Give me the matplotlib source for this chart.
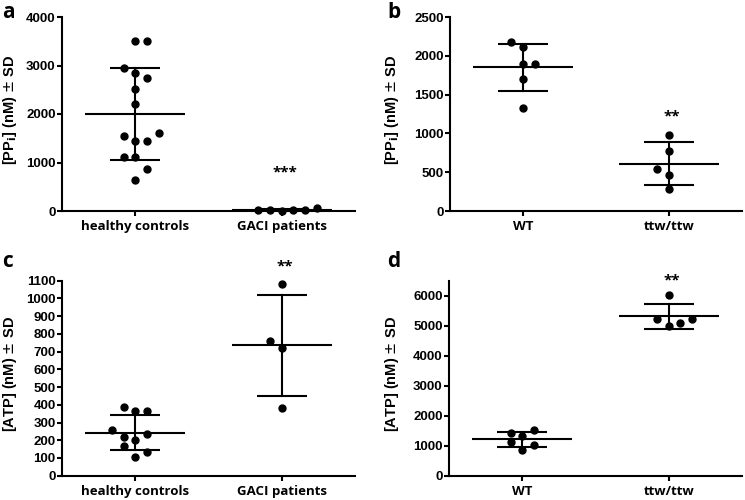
import numpy as np
import matplotlib
matplotlib.use("Agg")
import matplotlib.pyplot as plt

# ---- data ----
# panel a: PPi in human plasma
a_groups = ["healthy controls", "GACI patients"]
a_controls = [3511, 3511, 2955, 2838, 2735, 2515, 2206, 1546, 1601, 1443, 1443, 1120, 1120, 859, 639]
a_gaci = [20, 15, 10, 15, 20, 60]

# panel b: PPi in mouse plasma
b_groups = ["WT", "ttw/ttw"]
b_wt = [2174, 2109, 1894, 1894, 1701, 1331]
b_ttw = [982, 776, 545, 467, 287]

# panel c: ATP in human plasma
c_groups = ["healthy controls", "GACI patients"]
c_controls = [387, 363, 363, 256, 220, 237, 203, 167, 134, 103]
c_gaci = [1079, 760, 720, 382]

# panel d: ATP in mouse plasma
d_groups = ["WT", "ttw/ttw"]
d_wt = [1428, 1539, 1317, 1107, 1007, 852]
d_ttw = [6022, 5214, 5214, 5081, 5004]

# scatter slot of each dot (column-scatter layout as in the figure)
a_controls_slot = [0, 1, -1, 0, 1, 0, 0, -1, 2, 0, 1, -1, 0, 1, 0]
a_gaci_slot = [-2, -1, 0, 1, 2, 3]
b_wt_slot = [-1, 0, 0, 1, 0, 0]
b_ttw_slot = [0, 0, -1, 0, 0]
c_controls_slot = [-1, 0, 1, -2, -1, 1, 0, -1, 1, 0]
c_gaci_slot = [0, -1, 0, 0]
d_wt_slot = [-1, 1, 0, -1, 1, 0]
d_ttw_slot = [0, -1, 2, 1, 0]

SLOT_W = 0.08
TICK_FONT = "Liberation Sans"
CAT_FONT = "Open Sans"

fig = plt.figure(figsize=(7.45, 5.0), dpi=100)


def panel(rect, groups, series, slots, ylim, yticks, ylabel, stars, star_y, letter, letter_xy, label_x):
    ax = fig.add_axes(rect)
    for i, (vals, sl) in enumerate(zip(series, slots)):
        vals = np.array(vals, dtype=float)
        m = vals.mean()
        sd = vals.std(ddof=1)
        ax.plot([i - 0.34, i + 0.34], [m, m], color="black", lw=1.5, solid_capstyle="butt")
        ax.plot([i, i], [m - sd, m + sd], color="black", lw=1.5)
        for y in (m - sd, m + sd):
            ax.plot([i - 0.17, i + 0.17], [y, y], color="black", lw=1.5, solid_capstyle="butt")
        xs = i + SLOT_W * np.array(sl)
        ax.plot(xs, vals, "o", color="black", ms=5, mec="black", clip_on=False, zorder=5)

    ax.set_xlim(-0.5, 1.5)
    ax.set_ylim(*ylim)
    ax.set_yticks(yticks)
    ax.set_xticks([0, 1])
    ax.set_xticklabels(groups, fontfamily=CAT_FONT, fontweight="bold", fontsize=9.5)
    for lab in ax.get_yticklabels():
        lab.set_fontfamily(TICK_FONT)
        lab.set_fontweight("bold")
        lab.set_fontsize(9.5)
    ax.spines["top"].set_visible(False)
    ax.spines["right"].set_visible(False)
    ax.spines["left"].set_linewidth(1.5)
    ax.spines["bottom"].set_linewidth(1.5)
    ax.tick_params(axis="y", length=3.5, width=1.5, pad=1)
    ax.tick_params(axis="x", length=3.5, width=1.5, pad=3)
    ax.set_ylabel(ylabel, fontfamily=TICK_FONT, fontweight="bold", fontsize=10.5)
    ax.yaxis.set_label_coords(label_x, 0.52)
    ax.text(1.02, star_y, stars, ha="center", va="center", fontfamily=CAT_FONT,
            fontweight="bold", fontsize=11, clip_on=False)
    fig.text(letter_xy[0] / 745, 1 - letter_xy[1] / 500, letter, fontfamily=CAT_FONT,
             fontweight="bold", fontsize=15, ha="left", va="baseline")
    return ax


ppi_label = r"[PP$_{\mathbf{i}}$] (nM) $\pm$ SD"
atp_label = r"[ATP] (nM) $\pm$ SD"

top_rect_b = (500 - 211) / 500
top_h = 194 / 500
bot_rect_b = (500 - 475.7) / 500
bot_h = 195 / 500

panel([62 / 745, top_rect_b, 293 / 745, top_h], a_groups, [a_controls, a_gaci],
      [a_controls_slot, a_gaci_slot], (0, 4000), range(0, 4001, 1000),
      ppi_label, "***", 790, "a", (2, 18), -0.148)
panel([450 / 745, top_rect_b, 292 / 745, top_h], b_groups, [b_wt, b_ttw],
      [b_wt_slot, b_ttw_slot], (0, 2500), range(0, 2501, 500),
      ppi_label, "**", 1222, "b", (387, 18), -0.168)
panel([62 / 745, bot_rect_b, 293 / 745, bot_h], c_groups, [c_controls, c_gaci],
      [c_controls_slot, c_gaci_slot], (0, 1100), range(0, 1101, 100),
      atp_label, "**", 1179, "c", (2, 267), -0.146)
panel([449 / 745, bot_rect_b, 293 / 745, bot_h], d_groups, [d_wt, d_ttw],
      [d_wt_slot, d_ttw_slot], (0, 6500), range(0, 6001, 1000),
      atp_label, "**", 6520, "d", (387, 267), -0.165)

fig.savefig("out.png", dpi=100)
